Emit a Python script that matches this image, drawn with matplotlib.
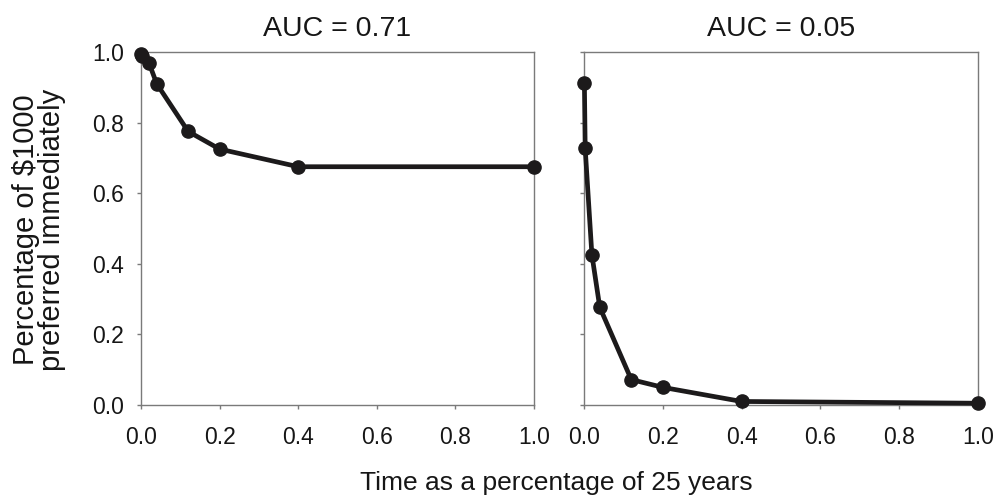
import matplotlib
matplotlib.use("Agg")
import matplotlib.pyplot as plt

plt.rcParams['font.family'] = ['Liberation Sans', 'DejaVu Sans']

time_frac = [0.001, 0.003, 0.02, 0.04, 0.12, 0.2, 0.4, 1.0]
left_vals = [0.995, 0.99, 0.97, 0.91, 0.775, 0.725, 0.675, 0.675]
right_vals = [0.912, 0.727, 0.426, 0.277, 0.072, 0.050, 0.010, 0.005]
titles = ["AUC = 0.71", "AUC = 0.05"]
ticks = [0.0, 0.2, 0.4, 0.6, 0.8, 1.0]
tick_labels = ["0.0", "0.2", "0.4", "0.6", "0.8", "1.0"]

W, H = 996, 496
fig = plt.figure(figsize=(W / 100, H / 100), dpi=100)

def px_axes(x0, x1, y0, y1):
    return fig.add_axes([x0 / W, 1 - y1 / H, (x1 - x0) / W, (y1 - y0) / H])

ax1 = px_axes(141, 534, 52, 405)
ax2 = px_axes(584, 978, 52, 405)

line_col = '#1c1a1b'
spine_col = '#7a7a7a'
txt_col = '#161616'
for ax, vals, title in [(ax1, left_vals, titles[0]), (ax2, right_vals, titles[1])]:
    ax.plot(time_frac, vals, color=line_col, lw=3.4, marker='o', ms=9.5,
            clip_on=False, zorder=3)
    ax.set_xlim(0, 1.0)
    ax.set_ylim(0, 1.0)
    ax.set_xticks(ticks)
    ax.set_xticklabels(tick_labels)
    ax.set_yticks(ticks)
    for s in ax.spines.values():
        s.set_color(spine_col)
        s.set_linewidth(1.0)
    ax.tick_params(direction='out', length=3, width=1, color=spine_col,
                   labelsize=16.5, labelcolor=txt_col)
    ax.tick_params(axis='x', pad=12)
    ax.tick_params(axis='y', pad=9)
    ax.set_title(title, fontsize=20.5, pad=11.5, color=txt_col)

ax1.set_yticklabels(tick_labels)
ax2.set_yticklabels([])

fig.text(556 / W, 1 - 490 / H, "Time as a percentage of 25 years",
         ha='center', va='baseline', fontsize=19, color=txt_col)
fig.text(39 / W, 1 - 230 / H, "Percentage of $1000\npreferred immediately",
         ha='center', va='center', rotation=90, fontsize=21,
         color=txt_col, linespacing=0.88)

fig.savefig("out.png", dpi=100)
